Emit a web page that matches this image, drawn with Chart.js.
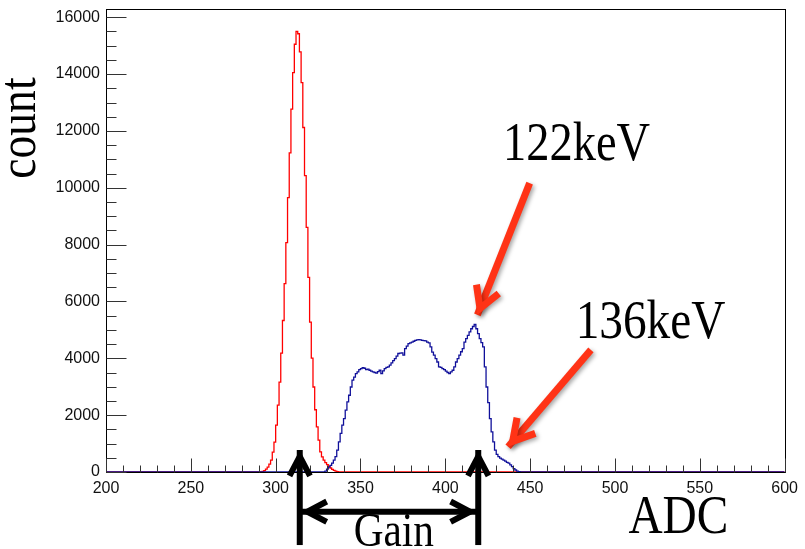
<!DOCTYPE html>
<html>
<head>
<meta charset="utf-8">
<script src="https://cdn.jsdelivr.net/npm/chart.js@4.4.0/dist/chart.umd.min.js"></script>
<style>
    html, body { margin: 0; padding: 0; background: #fff; }
    #wrap { width: 805px; height: 549px; }
</style>
</head>
<body>
<div id="wrap"><canvas id="chart" width="805" height="549"></canvas></div>
<script>
// Histogram range (ADC), one bin per ADC unit
const xMin = 200;
const xMax = 600;
const yMax = 16290;

// Red histogram, first bin and counts per bin
const redStart = 291;
const redCounts = [
    10, 20, 50, 100, 170, 280, 420, 700, 1050, 1650,
    2350, 3160, 4180, 5330, 6630, 8070, 9650, 11230, 12770, 14050,
    15050, 15500, 15420, 14780, 13700, 12120, 10430, 8610, 6850, 5270,
    4010, 2990, 2190, 1590, 1120, 710, 530, 420, 330, 260,
    200, 140, 90, 60, 30, 10
];

// Blue histogram, first bin and counts per bin
const blueStart = 329;
const blueCounts = [
    30, 100, 170, 230, 310, 420, 540, 770, 1060, 1360,
    1650, 1880, 2180, 2470, 2700, 2990, 3230, 3340, 3460, 3520,
    3600, 3640, 3670, 3650, 3600, 3620, 3580, 3550, 3520, 3500,
    3480, 3530, 3580, 3460, 3560, 3640, 3680, 3700, 3760, 3840,
    3920, 3990, 4080, 4170, 4180, 4190, 4110, 4340, 4430, 4520,
    4540, 4570, 4600, 4630, 4650, 4660, 4650, 4630, 4620, 4610,
    4570, 4540, 4400, 4220, 4110, 3990, 3870, 3700, 3680, 3640,
    3600, 3550, 3500, 3460, 3520, 3580, 3700, 3870, 3990, 4110,
    4230, 4340, 4570, 4690, 4810, 4930, 5040, 5120, 5190, 5040,
    4870, 4690, 4550, 4400, 3700, 2990, 2440, 1880, 1410, 1060,
    770, 620, 540, 490, 450, 420, 380, 340, 310, 250,
    190, 120, 70, 30, 10, 5
];

// Tick labels and spacing
const xTickValues = [200, 250, 300, 350, 400, 450, 500, 550, 600];
const yTickValues = [0, 2000, 4000, 6000, 8000, 10000, 12000, 14000, 16000];
const xMajorStep = 50;
const xMinorStep = 10;
const yMajorStep = 2000;
const yMinorStep = 500;

// Annotations in data units (ADC, count)
const redArrows = [
    {from: [449.7, 10165], to: [418.9, 5528]},
    {from: [485.8, 4296], to: [437.0, 891]}
];
const blackArrows = [
    {from: [314.2, -2570], to: [314.2, 775], both: false},
    {from: [419.4, -2570], to: [419.4, 775], both: false},
    {from: [314.8, -1398], to: [418.4, -1398], both: true}
];
const notes = [
    {text: '122keV', x: 434.0, y: 10986, size: 54},
    {text: '136keV', x: 476.8, y: 4718, size: 55},
    {text: 'Gain', x: 346.0, y: -2606, size: 48},
    {text: 'ADC', x: 507.9, y: -2148, size: 55}
];

// Fill the whole range with bins, zero outside the given counts
function buildHist(start, counts) {
    let pts = [];
    for (let x = xMin; x < xMax; x++) {
        let i = x - start;
        let v = (i >= 0 && i < counts.length) ? counts[i] : 0;
        pts.push({x: x, y: v});
    }
    pts.push({x: xMax, y: 0});
    return pts;
}

// Frame around the plot area, like a ROOT pad
const rootFrame = {
    id: 'rootFrame',
    beforeDatasetsDraw(chart) {
        let a = chart.chartArea;
        let ctx = chart.ctx;
        ctx.save();
        ctx.strokeStyle = '#000';
        ctx.lineWidth = 1;
        ctx.strokeRect(Math.floor(a.left) + 0.5, Math.floor(a.top) + 0.5,
            Math.round(a.right - a.left), Math.round(a.bottom - a.top));
        ctx.restore();
    }
};

// Inward ticks on the bottom and left axis
const rootTicks = {
    id: 'rootTicks',
    afterDatasetsDraw(chart) {
        let a = chart.chartArea;
        let ctx = chart.ctx;
        let xs = chart.scales.x;
        let ys = chart.scales.y;
        let bottom = Math.floor(a.bottom) + 0.5;
        let left = Math.floor(a.left) + 0.5;
        ctx.save();
        ctx.strokeStyle = '#333';
        ctx.lineWidth = 1;
        ctx.beginPath();
        for (let v = xMin; v <= xMax; v += xMinorStep) {
            let px = Math.round(xs.getPixelForValue(v)) + 0.5;
            let len = (v % xMajorStep === 0) ? 14 : 7;
            ctx.moveTo(px, bottom);
            ctx.lineTo(px, bottom - len);
        }
        for (let v = 0; v <= yMax; v += yMinorStep) {
            let py = Math.round(ys.getPixelForValue(v)) + 0.5;
            let len = (v % yMajorStep === 0) ? 20 : 10;
            ctx.moveTo(left, py);
            ctx.lineTo(left + len, py);
        }
        ctx.stroke();
        ctx.restore();
    }
};

// Line with an open chevron head at 'to' (and at 'from' if both)
function drawArrow(ctx, x1, y1, x2, y2, width, headLen, headAng, both) {
    ctx.lineWidth = width;
    ctx.lineJoin = 'miter';
    ctx.lineCap = 'butt';
    ctx.beginPath();
    ctx.moveTo(x1, y1);
    ctx.lineTo(x2, y2);
    ctx.stroke();
    let heads = both ? [[x2, y2, x1, y1], [x1, y1, x2, y2]] : [[x2, y2, x1, y1]];
    for (let h of heads) {
        let ang = Math.atan2(h[3] - h[1], h[2] - h[0]);
        // pull the tip back so the miter ends at the wanted point
        let back = width / (2 * Math.sin(headAng));
        let tx = h[0] + back * Math.cos(ang);
        let ty = h[1] + back * Math.sin(ang);
        ctx.beginPath();
        ctx.moveTo(tx + headLen * Math.cos(ang + headAng), ty + headLen * Math.sin(ang + headAng));
        ctx.lineTo(tx, ty);
        ctx.lineTo(tx + headLen * Math.cos(ang - headAng), ty + headLen * Math.sin(ang - headAng));
        ctx.stroke();
    }
}

// Condensed serif text, like the Times labels of the slide
function drawNote(ctx, text, x, y, size, rotate) {
    ctx.save();
    ctx.translate(x, y);
    if (rotate)
        ctx.rotate(-Math.PI / 2);
    ctx.scale(0.86, 1);
    ctx.font = size + 'px "Liberation Serif", "DejaVu Serif", serif';
    ctx.fillStyle = '#000';
    ctx.textAlign = rotate ? 'center' : 'left';
    ctx.textBaseline = 'alphabetic';
    ctx.fillText(text, 0, 0);
    ctx.restore();
}

const annotations = {
    id: 'annotations',
    afterDraw(chart) {
        let ctx = chart.ctx;
        let xs = chart.scales.x;
        let ys = chart.scales.y;
        let px = (v) => xs.getPixelForValue(v);
        let py = (v) => ys.getPixelForValue(v);

        ctx.save();
        // Red arrows with a soft shadow
        ctx.strokeStyle = '#ff3316';
        ctx.shadowColor = 'rgba(0,0,0,0.35)';
        ctx.shadowBlur = 4;
        ctx.shadowOffsetX = 2;
        ctx.shadowOffsetY = 2;
        for (let ar of redArrows) {
            drawArrow(ctx, px(ar.from[0]), py(ar.from[1]), px(ar.to[0]), py(ar.to[1]),
                7, 24, Math.PI / 6, false);
        }
        ctx.restore();

        ctx.save();
        ctx.strokeStyle = '#000';
        for (let ar of blackArrows) {
            drawArrow(ctx, px(ar.from[0]), py(ar.from[1]), px(ar.to[0]), py(ar.to[1]),
                6, 22, Math.PI / 6.5, ar.both);
        }
        ctx.restore();

        for (let n of notes) {
            drawNote(ctx, n.text, px(n.x), py(n.y), n.size, false);
        }
        // Y axis title
        drawNote(ctx, 'count', px(158.3), py(12100), 53, true);
    }
};

let ctx = document.getElementById('chart');
let chart = new Chart(ctx, {
    type: 'line',
    data: {
        datasets: [
            {
                label: 'blue',
                data: buildHist(blueStart, blueCounts),
                borderColor: '#10109a',
                borderWidth: 1.3,
                stepped: true,
                pointRadius: 0,
                fill: false,
                order: 1
            },
            {
                label: 'red',
                data: buildHist(redStart, redCounts),
                borderColor: '#ff0000',
                borderWidth: 1.3,
                stepped: true,
                pointRadius: 0,
                fill: false,
                order: 2
            }
        ]
    },
    options: {
        responsive: false,
        animation: false,
        devicePixelRatio: 1,
        layout: {
            padding: {left: 0, right: 17, top: 9, bottom: 0}
        },
        plugins: {
            legend: {display: false},
            tooltip: {enabled: false}
        },
        scales: {
            x: {
                type: 'linear',
                min: xMin,
                max: xMax,
                border: {display: false},
                grid: {display: false, drawTicks: false},
                ticks: {
                    padding: 7,
                    color: '#111',
                    font: {family: '"Liberation Sans", Arial, sans-serif', size: 16},
                    maxRotation: 0,
                    autoSkip: false,
                    callback: (v) => String(v)
                },
                afterBuildTicks(scale) {
                    scale.ticks = xTickValues.map(v => ({value: v}));
                },
                afterFit(scale) {
                    scale.height = 77;
                }
            },
            y: {
                type: 'linear',
                min: 0,
                max: yMax,
                border: {display: false},
                grid: {display: false, drawTicks: false},
                ticks: {
                    padding: 6,
                    color: '#111',
                    font: {family: '"Liberation Sans", Arial, sans-serif', size: 16},
                    autoSkip: false,
                    callback: (v) => String(v)
                },
                afterBuildTicks(scale) {
                    scale.ticks = yTickValues.map(v => ({value: v}));
                },
                afterFit(scale) {
                    scale.width = 106;
                    scale.paddingTop = 0;
                    scale.paddingBottom = 0;
                }
            }
        }
    },
    plugins: [rootFrame, rootTicks, annotations]
});
</script>
</body>
</html>
